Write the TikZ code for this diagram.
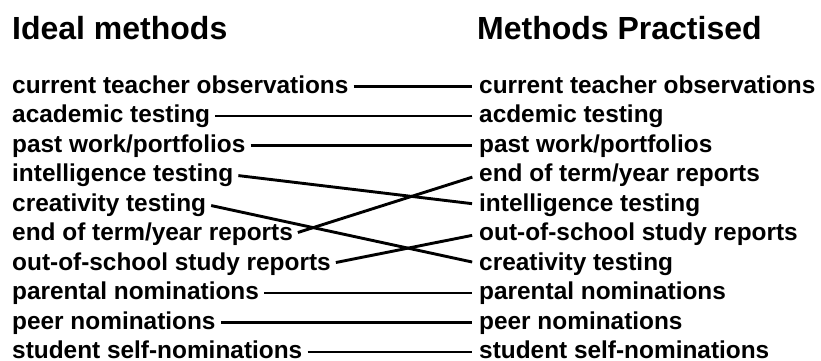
\documentclass[tikz,border=0pt]{standalone}
\usepackage{fontspec}
\setmainfont{Liberation Sans}
\usepackage{tikz}
\usetikzlibrary{positioning}
\definecolor{ink}{RGB}{0, 0, 0}
\tikzset{
  headblock/.style={
    inner sep=0pt, anchor=base west, text=ink,
    font=\bfseries\fontsize{32}{36}\selectfont
  },
  itemblock/.style={
    inner sep=0pt, text height=13pt, text depth=0pt, text=ink,
    font=\bfseries\fontsize{24.4}{28}\selectfont
  },
  linkline/.style={
    draw=ink, line width=2.9pt, shorten <=5pt, shorten >=7pt
  }
}

\begin{document}
\begin{tikzpicture}[x=1pt, y=-1pt]
  \useasboundingbox (0,0) rectangle (821,361);

  % Column headings
  \node[headblock] (idealhead) at (12,40) {Ideal methods};
  \node[headblock] (practhead) at (477,40) {Methods Practised};

  % Ideal methods (left column)
  \node[itemblock, anchor=base west] (l1) at (12,93) {current teacher observations};
  \node[itemblock, below=16.1pt of l1.south west, anchor=north west] (l2) {academic testing};
  \node[itemblock, below=16.1pt of l2.south west, anchor=north west] (l3) {past work/portfolios};
  \node[itemblock, below=16.1pt of l3.south west, anchor=north west] (l4) {intelligence testing};
  \node[itemblock, below=16.1pt of l4.south west, anchor=north west] (l5) {creativity testing};
  \node[itemblock, below=16.1pt of l5.south west, anchor=north west] (l6) {end of term/year reports};
  \node[itemblock, below=16.1pt of l6.south west, anchor=north west] (l7) {out-of-school study reports};
  \node[itemblock, below=16.1pt of l7.south west, anchor=north west] (l8) {parental nominations};
  \node[itemblock, below=16.1pt of l8.south west, anchor=north west] (l9) {peer nominations};
  \node[itemblock, below=16.1pt of l9.south west, anchor=north west] (l10) {student self-nominations};

  % Methods practised (right column)
  \node[itemblock, anchor=base west] (r1) at (479,93) {current teacher observations};
  \node[itemblock, below=16.1pt of r1.south west, anchor=north west] (r2) {acdemic testing};
  \node[itemblock, below=16.1pt of r2.south west, anchor=north west] (r3) {past work/portfolios};
  \node[itemblock, below=16.1pt of r3.south west, anchor=north west] (r4) {end of term/year reports};
  \node[itemblock, below=16.1pt of r4.south west, anchor=north west] (r5) {intelligence testing};
  \node[itemblock, below=16.1pt of r5.south west, anchor=north west] (r6) {out-of-school study reports};
  \node[itemblock, below=16.1pt of r6.south west, anchor=north west] (r7) {creativity testing};
  \node[itemblock, below=16.1pt of r7.south west, anchor=north west] (r8) {parental nominations};
  \node[itemblock, below=16.1pt of r8.south west, anchor=north west] (r9) {peer nominations};
  \node[itemblock, below=16.1pt of r9.south west, anchor=north west] (r10) {student self-nominations};

  \draw[linkline] (l1.east) -- (r1.west);
  \draw[linkline] (l2.east) -- (r2.west);
  \draw[linkline] (l3.east) -- (r3.west);
  \draw[linkline] (l4.east) -- (r5.west);
  \draw[linkline] (l5.east) -- (r7.west);
  \draw[linkline] (l6.east) -- (r4.west);
  \draw[linkline] (l7.east) -- (r6.west);
  \draw[linkline] (l8.east) -- (r8.west);
  \draw[linkline] (l9.east) -- (r9.west);
  \draw[linkline] (l10.east) -- (r10.west);

\end{tikzpicture}
\end{document}
